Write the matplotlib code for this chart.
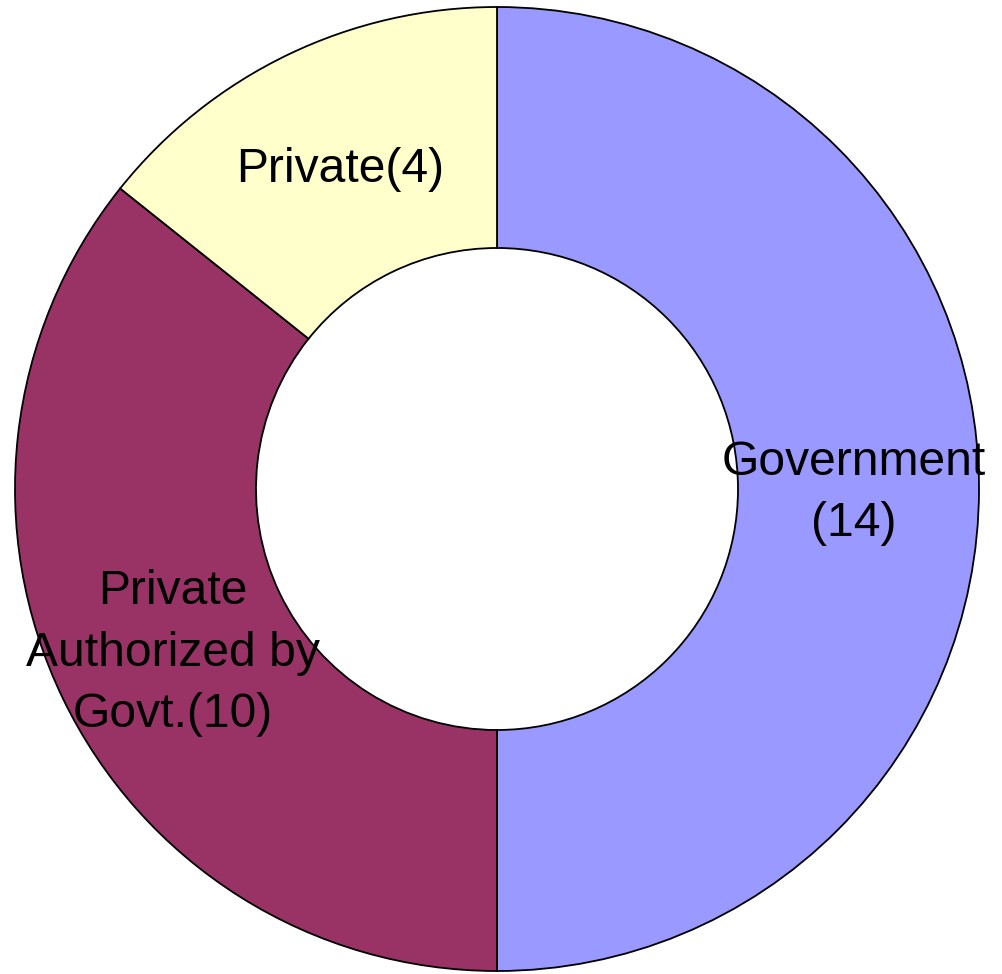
import matplotlib
matplotlib.use("Agg")
import matplotlib.pyplot as plt

categories = ["Government", "Private Authorized by Govt.", "Private"]
counts = [14, 10, 4]
labels = ["Government\n(14)", "Private\nAuthorized by\nGovt.(10)", "Private(4)"]
colors = ["#9999FF", "#993366", "#FFFFCC"]

W, H = 1003, 974
fig = plt.figure(figsize=(W / 100, H / 100), dpi=100)
ax = fig.add_axes([0, 0, 1, 1])

cx, cy, r = 497, 485, 482
wedges, _ = ax.pie(
    counts,
    colors=colors,
    startangle=90,
    counterclock=False,
    center=(cx, cy),
    radius=r,
    wedgeprops=dict(width=r * 0.5, edgecolor="black", linewidth=1.3),
)
ax.set_xlim(0, W)
ax.set_ylim(0, H)
ax.set_aspect("equal")
ax.axis("off")

label_pos = [(854, 481), (173, 321), (340, 805)]
for text, (x, y) in zip(labels, label_pos):
    ax.text(x, y, text, ha="center", va="center", fontsize=34.6,
            family="Liberation Sans", linespacing=1.46, color="black")

fig.savefig("out.png", dpi=100)
